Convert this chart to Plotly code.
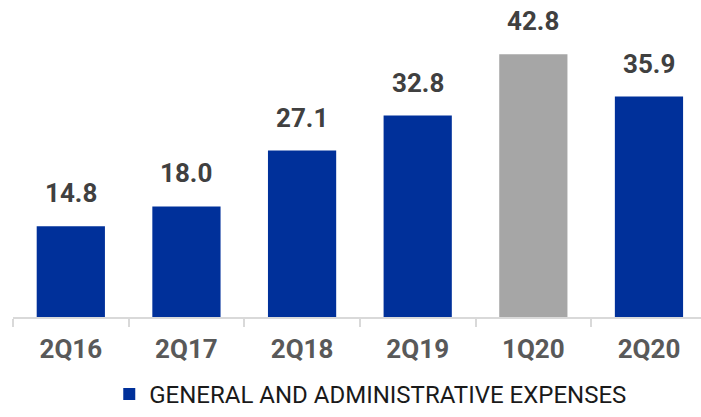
import plotly.graph_objects as go

categories = ["2Q16", "2Q17", "2Q18", "2Q19", "1Q20", "2Q20"]
values = [14.8, 18.0, 27.1, 32.8, 42.8, 35.9]
bar_colors = ["#00309a", "#00309a", "#00309a", "#00309a", "#a6a6a6", "#00309a"]
series_name = "GENERAL AND ADMINISTRATIVE EXPENSES"

fig = go.Figure()
fig.add_trace(go.Bar(
    x=categories,
    y=values,
    name=series_name,
    marker=dict(color=bar_colors, line=dict(width=0)),
    showlegend=True,
))

# value labels above each bar
for c, v in zip(categories, values):
    fig.add_annotation(
        x=c, y=v, text=f"{v:.1f}", showarrow=False,
        yanchor="bottom", yshift=16,
        font=dict(family="Roboto", size=26, color="#404040", weight="bold"),
    )

fig.update_layout(
    width=701, height=417,
    margin=dict(l=13, r=0, t=10, b=100),
    paper_bgcolor="white", plot_bgcolor="white",
    bargap=0.41,
    xaxis=dict(
        range=[-0.5, 5.45],
        showline=True, linecolor="#d9d9d9", linewidth=2,
        ticks="outside", tickson="boundaries", ticklen=8, tickcolor="#d9d9d9", tickwidth=2,
        tickfont=dict(family="Roboto", size=26, color="#595959", weight="bold"),
        ticklabelstandoff=8,
        showgrid=False,
    ),
    yaxis=dict(range=[0, 50], visible=False, showgrid=False, zeroline=False),
    legend=dict(
        orientation="h", x=0.52, xanchor="center",
        yref="container", y=0.0, yanchor="bottom",
        font=dict(family="Roboto", size=24, color="#1a1a1a"),
        itemwidth=30,
    ),
)

fig.write_html("out.html")
